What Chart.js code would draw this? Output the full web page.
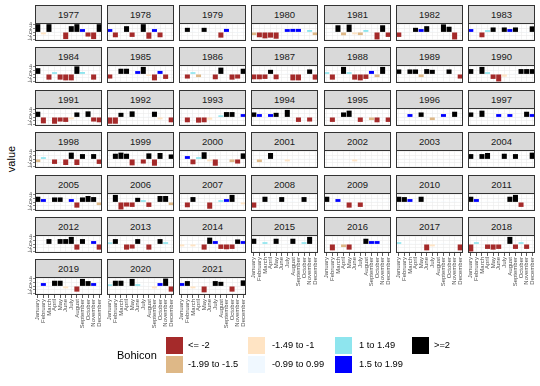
<!DOCTYPE html>
<html><head><meta charset="utf-8">
<script src="https://cdn.jsdelivr.net/npm/chart.js@4.4.0/dist/chart.umd.min.js"></script>
<style>
html,body{margin:0;padding:0;background:#fff;}
#wrap{position:relative;width:540px;height:386px;overflow:hidden;font-family:"Liberation Sans",Arial,sans-serif;}
.strip{position:absolute;background:#d9d9d9;border:1px solid #333;box-sizing:border-box;text-align:center;font-size:9.5px;color:#1a1a1a;}
canvas{position:absolute;}
.lg{position:absolute;font-size:9.3px;color:#000;white-space:nowrap;}
.sw{position:absolute;width:17px;height:17px;}
</style></head>
<body><div id="wrap"></div>
<script>
const months = ["January","February","March","April","May","June","July","August","September","October","November","December"];
const yTicks = [-4,-2,0,2,4];
const classLabels = ["<= -2","-1.99 to -1.5","-1.49 to -1","-0.99 to 0.99","1 to 1.49","1.5 to 1.99",">=2"];
const classColors = ["#A52A2A","#DEB887","#FFE4C4","#F0F8FF","#8EE5EE","#0000FF","#000000"];
const years = [1977,1978,1979,1980,1981,1982,1983,1984,1985,1986,1987,1988,1989,1990,1991,1992,1993,1994,1995,1996,1997,1998,1999,2000,2001,2002,2003,2004,2005,2006,2007,2008,2009,2010,2011,2012,2013,2014,2015,2016,2017,2018,2019,2020,2021];

const y1977 = [4.4,-1.2,4.4,0.3,0.4,-3.8,3.3,4.4,1.7,-2.4,-3.8,4.4];
const y1978 = [1.7,-2.8,0.4,3.3,-2.6,0.3,4.4,-3.6,1.7,-2.8,-0.4,0.3];
const y1979 = [0.3,2.4,0.4,-0.3,2.4,0.5,-0.4,-3.0,1.8,0.3,-0.5,0.4];
const y1980 = [-1.6,-2.8,-3.4,-3.0,-3.6,0.4,1.7,1.8,1.8,0.3,1.2,-1.6];
const y1981 = [0.3,0.4,3.8,-1.7,4.2,-1.2,-1.6,1.2,0.3,-4.0,3.8,-2.6];
const y1982 = [-2.6,0.3,0.4,2.4,1.7,3.3,0.4,0.3,4.3,3.0,-4.0,0.3];
const y1983 = [1.7,0.3,-2.8,1.1,2.6,0.4,2.6,1.7,2.6,0.3,-0.4,3.2];
const y1984 = [3.3,0.3,-3.0,1.1,-3.0,-3.4,-3.4,4.3,1.2,0.3,-3.0,0.4];
const y1985 = [-2.4,0.3,3.0,3.0,0.4,1.7,4.0,-1.0,-3.4,1.8,-2.6,0.3];
const y1986 = [0.3,-2.4,1.1,-1.6,0.4,0.3,-2.8,3.6,0.4,-3.0,-2.4,3.0];
const y1987 = [-2.8,-2.8,-2.6,2.4,-2.8,0.3,0.4,-3.4,-3.4,0.3,2.6,-3.0];
const y1988 = [1.1,-3.0,0.4,4.0,1.1,-3.0,-3.4,-2.6,1.8,-1.6,4.0,0.3];
const y1989 = [2.6,0.3,2.6,2.6,-1.6,2.8,2.4,0.3,0.4,2.6,0.3,-2.4];
const y1990 = [2.8,0.3,4.0,1.1,-2.6,-4.0,-1.4,0.3,0.4,2.8,2.8,2.8];
const y1991 = [3.0,-3.4,0.3,-3.6,-2.4,-2.6,-1.2,2.6,0.4,3.2,-2.4,-2.8];
const y1992 = [-3.6,-3.6,2.4,0.3,3.2,0.4,0.3,0.4,3.0,-1.2,0.3,-2.8];
const y1993 = [0.3,-2.8,0.4,-3.0,-2.8,-1.4,0.3,1.0,2.8,2.8,0.4,1.7];
const y1994 = [2.6,1.7,0.4,1.7,2.4,0.3,4.0,0.3,-2.6,0.4,-2.4,0.3];
const y1995 = [0.3,-2.6,0.4,2.6,3.6,0.3,-2.6,0.4,-1.6,-2.8,0.3,-2.6];
const y1996 = [0.3,0.4,1.7,0.3,2.6,0.4,-1.6,0.3,1.7,0.4,3.0,0.3];
const y1997 = [2.6,0.3,3.6,0.4,0.3,1.7,0.4,1.7,0.3,0.4,3.0,1.7];
const y1998 = [-1.6,1.1,0.3,-2.6,0.4,-3.2,3.6,-3.2,2.8,0.3,2.8,-2.6];
const y1999 = [0.3,3.0,3.6,3.0,-3.4,0.3,-2.4,3.2,-3.6,3.4,0.3,2.6];
const y2000 = [0.3,1.7,-2.8,1.1,3.8,-1.2,-3.6,0.3,0.4,-1.6,-2.4,3.2];
const y2001 = [0.3,-1.6,0.4,3.4,0.3,0.4,-1.2,0.3,0.4,0.3,0.4,0.3];
const y2002 = [0.3,0.4,0.3,0.4,0.3,-1.2,0.4,0.3,0.4,0.3,0.4,0.3];
const y2003 = [0.3,0.4,0.3,0.4,0.3,0.4,0.3,0.4,0.3,0.4,0.3,0.4];
const y2004 = [2.8,0.3,2.8,3.4,0.4,0.3,3.0,0.4,2.8,0.3,0.4,3.6];
const y2005 = [3.0,1.7,0.3,2.6,2.6,0.4,1.7,-3.0,2.6,3.4,2.8,-1.6];
const y2006 = [0.3,4.0,-4.0,-2.4,-2.6,2.4,1.1,-2.6,0.4,3.4,3.4,-1.6];
const y2007 = [0.3,-2.8,2.8,0.4,0.3,-3.6,0.4,1.1,1.7,4.0,0.3,-1.2];
const y2008 = [-3.0,0.3,3.0,0.4,0.3,2.8,0.3,0.4,0.3,2.8,0.4,0.3];
const y2009 = [3.0,0.3,1.7,0.4,-3.0,0.3,-2.6,0.4,0.3,0.4,0.3,0.4];
const y2010 = [3.0,2.8,1.7,0.4,3.0,0.3,0.4,0.3,0.4,0.3,0.4,0.3];
const y2011 = [3.0,1.7,0.3,0.4,0.3,0.4,0.3,3.0,4.0,-2.6,0.4,0.3];
const y2012 = [0.3,0.4,2.8,0.3,2.8,2.8,4.0,-3.0,2.8,0.4,1.7,-3.0];
const y2013 = [1.0,2.8,0.3,-3.0,-2.4,2.8,0.4,-3.0,0.3,2.8,1.1,0.3];
const y2014 = [-1.2,0.3,-1.2,0.4,-3.0,3.6,1.7,-2.6,-2.8,-2.6,2.6,1.7];
const y2015 = [3.0,0.3,1.1,0.4,3.0,0.3,0.4,3.0,0.3,1.1,4.0,0.3];
const y2016 = [0.3,-3.4,0.4,-1.6,-3.0,0.3,0.4,3.0,1.7,1.7,0.3,0.4];
const y2017 = [1.1,0.3,0.4,0.3,0.4,-3.4,-1.2,0.3,0.4,0.3,0.4,-3.4];
const y2018 = [-4.0,1.1,0.3,-2.6,-3.0,-2.6,0.4,4.0,-2.6,1.1,-2.6,0.3];
const y2019 = [0.3,1.7,0.4,3.0,3.0,-1.2,0.3,-3.0,4.0,2.8,1.7,0.3];
const y2020 = [1.0,3.0,3.0,0.3,4.0,1.1,0.4,0.3,-1.2,1.7,4.2,-3.0];
const y2021 = [1.7,2.8,-1.2,0.3,-3.4,0.4,2.8,2.4,0.3,-3.0,0.4,3.2];

const values = [y1977,y1978,y1979,y1980,y1981,y1982,y1983,y1984,y1985,y1986,y1987,y1988,y1989,y1990,y1991,y1992,y1993,y1994,y1995,y1996,y1997,y1998,y1999,y2000,y2001,y2002,y2003,y2004,y2005,y2006,y2007,y2008,y2009,y2010,y2011,y2012,y2013,y2014,y2015,y2016,y2017,y2018,y2019,y2020,y2021];

function classOf(v){
  if (v <= -2) return 0;
  if (v <= -1.5) return 1;
  if (v <= -1) return 2;
  if (v < 1) return 3;
  if (v < 1.5) return 4;
  if (v < 2) return 5;
  return 6;
}

Chart.defaults.font.family = '"Liberation Sans", Arial, sans-serif';
const wrap = document.getElementById('wrap');
const NCOL = 7, M = 4, panelW = 67, panelH = 18, stripH = 18;
function panelLeft(c){ return Math.round(34.5 + c * 72.3); }
function stripTop(r){ return Math.round(5 + r * 42.4); }

const borderPlugin = {
  id: 'panelBorder',
  afterDraw(ch){
    const a = ch.chartArea, ctx = ch.ctx;
    ctx.save();
    ctx.strokeStyle = '#333';
    ctx.lineWidth = 1;
    ctx.strokeRect(a.left + 0.5, a.top + 0.5, a.right - a.left - 1, a.bottom - a.top - 1);
    ctx.restore();
  }
};

years.forEach((yr, i) => {
  const r = Math.floor(i / NCOL), c = i % NCOL;
  const isLeft = c === 0;
  const isBottom = i + NCOL >= years.length;
  const yw = isLeft ? 14 : 0, xh = isBottom ? 36 : 0;
  const st = document.createElement('div');
  st.className = 'strip';
  st.style.left = panelLeft(c) + 'px';
  st.style.top = stripTop(r) + 'px';
  st.style.width = panelW + 'px';
  st.style.height = (stripH + 1) + 'px';
  st.style.lineHeight = (stripH - 1) + 'px';
  st.textContent = String(yr);
  wrap.appendChild(st);

  const cv = document.createElement('canvas');
  cv.width = panelW + yw + 2 * M;
  cv.height = panelH + xh + 2 * M;
  cv.style.width = cv.width + 'px';
  cv.style.height = cv.height + 'px';
  cv.style.left = (panelLeft(c) - yw - M) + 'px';
  cv.style.top = (stripTop(r) + stripH - M) + 'px';
  wrap.appendChild(cv);
  const vals = values[i];
  new Chart(cv, {
    type: 'bar',
    data: { labels: months, datasets: [{ data: vals, backgroundColor: vals.map(v => classColors[classOf(v)]), borderWidth: 0, barPercentage: 0.9, categoryPercentage: 1.0 }] },
    options: {
      responsive: false, animation: false, devicePixelRatio: 1,
      layout: { padding: M },
      plugins: { legend: { display: false }, tooltip: { enabled: false }, title: { display: false } },
      scales: {
        x: {
          offset: true,
          grid: { display: true, offset: false, color: '#ebebeb', lineWidth: 0.6, drawTicks: isBottom, tickLength: 3, tickColor: '#333', tickWidth: 0.8 },
          border: { display: false },
          ticks: { display: isBottom, autoSkip: false, minRotation: 90, maxRotation: 90, padding: 1, font: { size: 6 }, color: '#4d4d4d' },
          afterFit(s){ s.height = xh; s.paddingLeft = 0; s.paddingRight = 0; }
        },
        y: {
          min: -4.85, max: 5.05,
          afterBuildTicks(s){ s.ticks = yTicks.map(v => ({ value: v })); },
          grid: { color: '#ebebeb', lineWidth: 0.6, drawTicks: isLeft, tickLength: 2, tickColor: '#333' },
          border: { display: false },
          ticks: { display: isLeft, autoSkip: false, padding: 1, font: { size: 5 }, color: '#4d4d4d' },
          afterFit(s){ s.width = yw; s.paddingTop = 0; s.paddingBottom = 0; }
        }
      }
    },
    plugins: [borderPlugin]
  });
});

// y axis title
const yt = document.createElement('div');
yt.textContent = 'value';
yt.style.cssText = 'position:absolute;left:-9px;top:153px;width:40px;text-align:center;font-size:11px;color:#000;transform:rotate(-90deg);';
wrap.appendChild(yt);

// legend
const lt = document.createElement('div');
lt.className = 'lg';
lt.textContent = 'Bohicon';
lt.style.cssText += 'left:117px;top:349px;font-size:11px;';
wrap.appendChild(lt);
const swX = [166, 248, 335, 412], labX = [188, 272, 359, 434], rowY = [337, 356];
classLabels.forEach((lab, k) => {
  const col = Math.floor(k / 2), row = k % 2;
  const sw = document.createElement('div');
  sw.className = 'sw';
  sw.style.left = swX[col] + 'px';
  sw.style.top = rowY[row] + 'px';
  sw.style.background = classColors[k];
  wrap.appendChild(sw);
  const tx = document.createElement('div');
  tx.className = 'lg';
  tx.textContent = lab;
  tx.style.left = labX[col] + 'px';
  tx.style.top = (rowY[row] + 3) + 'px';
  wrap.appendChild(tx);
});
</script>
</body></html>
